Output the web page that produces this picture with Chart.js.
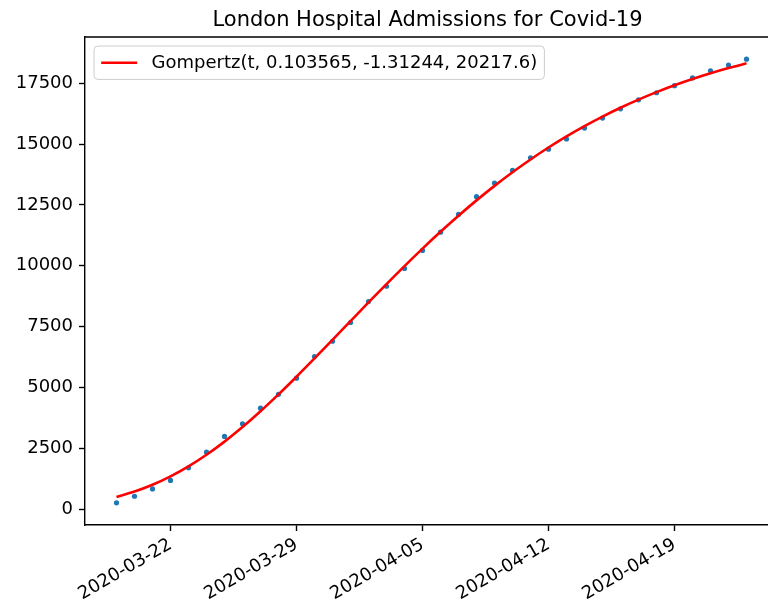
<!DOCTYPE html>
<html>
<head>
<meta charset="utf-8">
<title>London Hospital Admissions for Covid-19</title>
<script src="https://cdn.jsdelivr.net/npm/chart.js@4/dist/chart.umd.min.js"></script>
<style>
  html, body { margin: 0; padding: 0; background: #fff; overflow: hidden; }
  #wrap { width: 768px; height: 607px; overflow: hidden; }
  canvas { display: block; }
</style>
</head>
<body>
<div id="wrap"><canvas id="admissions" width="800" height="607" style="width:800px;height:607px"></canvas></div>
<script>
// daily cumulative admissions, one entry per date
var dates = [
  '2020-03-19', '2020-03-20', '2020-03-21', '2020-03-22', '2020-03-23', '2020-03-24',
  '2020-03-25', '2020-03-26', '2020-03-27', '2020-03-28', '2020-03-29', '2020-03-30',
  '2020-03-31', '2020-04-01', '2020-04-02', '2020-04-03', '2020-04-04', '2020-04-05',
  '2020-04-06', '2020-04-07', '2020-04-08', '2020-04-09', '2020-04-10', '2020-04-11',
  '2020-04-12', '2020-04-13', '2020-04-14', '2020-04-15', '2020-04-16', '2020-04-17',
  '2020-04-18', '2020-04-19', '2020-04-20', '2020-04-21', '2020-04-22', '2020-04-23'
];
var admissions = [
  260, 530, 830, 1180, 1700, 2340, 2990, 3510, 4150, 4720,
  5380, 6270, 6900, 7670, 8530, 9160, 9890, 10630, 11380, 12110,
  12840, 13400, 13920, 14440, 14790, 15210, 15660, 16070, 16450, 16820,
  17110, 17400, 17720, 18010, 18250, 18490
];
// fitted Gompertz curve at the same dates
var gompertzParams = [0.103565, -1.31244, 20217.6];
var fitted = [
  501, 721, 1001, 1346, 1757, 2234, 2775, 3373, 4023, 4716,
  5442, 6192, 6956, 7726, 8493, 9250, 9989, 10707, 11398, 12059,
  12688, 13283, 13843, 14369, 14860, 15317, 15741, 16133, 16496, 16829,
  17136, 17417, 17674, 17910, 18124, 18320
];
var xTickDates = ['2020-03-22', '2020-03-29', '2020-04-05', '2020-04-12', '2020-04-19'];
var yTicks = [0, 2500, 5000, 7500, 10000, 12500, 15000, 17500];

var TITLE = 'London Hospital Admissions for Covid-19';
var FONT = '"DejaVu Sans", sans-serif';
var FS = 18;

// 5% margins around the data, like the default autoscale
var allY = admissions.concat(fitted);
var yLo = Math.min.apply(null, allY), yHi = Math.max.apply(null, allY);
var yPad = (yHi - yLo) * 0.05;
var xPad = (dates.length - 1) * 0.05;

function pts(values) {
  return values.map(function (v, i) { return { x: i, y: v }; });
}

// top/right spines, title over the axes and the boxed legend in the upper left
var frameAndLegend = {
  id: 'frameAndLegend',
  afterDraw: function (chart) {
    var ctx = chart.ctx, area = chart.chartArea;
    ctx.save();
    ctx.strokeStyle = '#000';
    ctx.lineWidth = 1.4;
    ctx.beginPath();
    ctx.moveTo(area.left, area.top);
    ctx.lineTo(area.right, area.top);
    ctx.lineTo(area.right, area.bottom);
    ctx.stroke();

    ctx.fillStyle = '#000';
    ctx.font = '21px ' + FONT;
    ctx.textAlign = 'center';
    ctx.textBaseline = 'alphabetic';
    ctx.fillText(TITLE, (area.left + area.right) / 2 - 4, area.top - 11);

    var fit = chart.data.datasets[0];
    ctx.font = FS + 'px ' + FONT;
    var textW = ctx.measureText(fit.label).width;
    var pad = 7.2, handle = 36, gap = 14.4, rowH = 19;
    var x = area.left + 9, y = area.top + 9;
    var w = pad + handle + gap + textW + pad, h = pad * 2 + rowH;
    ctx.beginPath();
    ctx.roundRect(x, y, w, h, 4);
    ctx.fillStyle = 'rgba(255,255,255,0.8)';
    ctx.fill();
    ctx.strokeStyle = '#cccccc';
    ctx.lineWidth = 1;
    ctx.stroke();
    var cy = y + h / 2;
    ctx.beginPath();
    ctx.moveTo(x + pad, cy);
    ctx.lineTo(x + pad + handle, cy);
    ctx.strokeStyle = fit.borderColor;
    ctx.lineWidth = fit.borderWidth;
    ctx.stroke();
    ctx.fillStyle = '#000';
    ctx.textAlign = 'left';
    ctx.textBaseline = 'middle';
    ctx.fillText(fit.label, x + pad + handle + gap, cy + 1);
    ctx.restore();
  }
};

new Chart(document.getElementById('admissions'), {
  type: 'line',
  data: {
    datasets: [
      {
        label: 'Gompertz(t, ' + gompertzParams.join(', ') + ')',
        data: pts(fitted),
        borderColor: '#ff0000',
        borderWidth: 2.6,
        pointRadius: 0,
        cubicInterpolationMode: 'monotone',
        fill: false,
        order: 0
      },
      {
        label: 'admissions',
        data: pts(admissions),
        showLine: false,
        pointRadius: 2.6,
        pointBorderWidth: 0,
        pointBackgroundColor: '#1f77b4',
        borderColor: '#1f77b4',
        order: 1
      }
    ]
  },
  options: {
    responsive: false,
    animation: false,
    layout: { padding: { top: 37, right: 22, left: 0, bottom: 0 } },
    plugins: { legend: { display: false }, title: { display: false }, tooltip: { enabled: false } },
    scales: {
      x: {
        type: 'linear',
        min: -xPad,
        max: dates.length - 1 + xPad,
        afterBuildTicks: function (scale) {
          scale.ticks = xTickDates.map(function (d) { return { value: dates.indexOf(d) }; });
        },
        afterFit: function (scale) { scale.height = 82; },
        border: { display: true, color: '#000', width: 1.4 },
        grid: { drawOnChartArea: false, drawTicks: true, tickLength: 6, tickColor: '#000', tickWidth: 1.4 },
        ticks: {
          autoSkip: false,
          minRotation: 30,
          maxRotation: 30,
          padding: 3,
          color: '#000',
          font: { family: FONT, size: FS },
          callback: function (v) { return dates[v]; }
        }
      },
      y: {
        type: 'linear',
        min: yLo - yPad,
        max: yHi + yPad,
        afterBuildTicks: function (scale) {
          scale.ticks = yTicks.map(function (v) { return { value: v }; });
        },
        afterFit: function (scale) { scale.width = 85; },
        border: { display: true, color: '#000', width: 1.4 },
        grid: { drawOnChartArea: false, drawTicks: true, tickLength: 6, tickColor: '#000', tickWidth: 1.4 },
        ticks: {
          padding: 6,
          color: '#000',
          font: { family: FONT, size: FS },
          callback: function (v) { return String(v); }
        }
      }
    }
  },
  plugins: [frameAndLegend]
});
</script>
</body>
</html>
